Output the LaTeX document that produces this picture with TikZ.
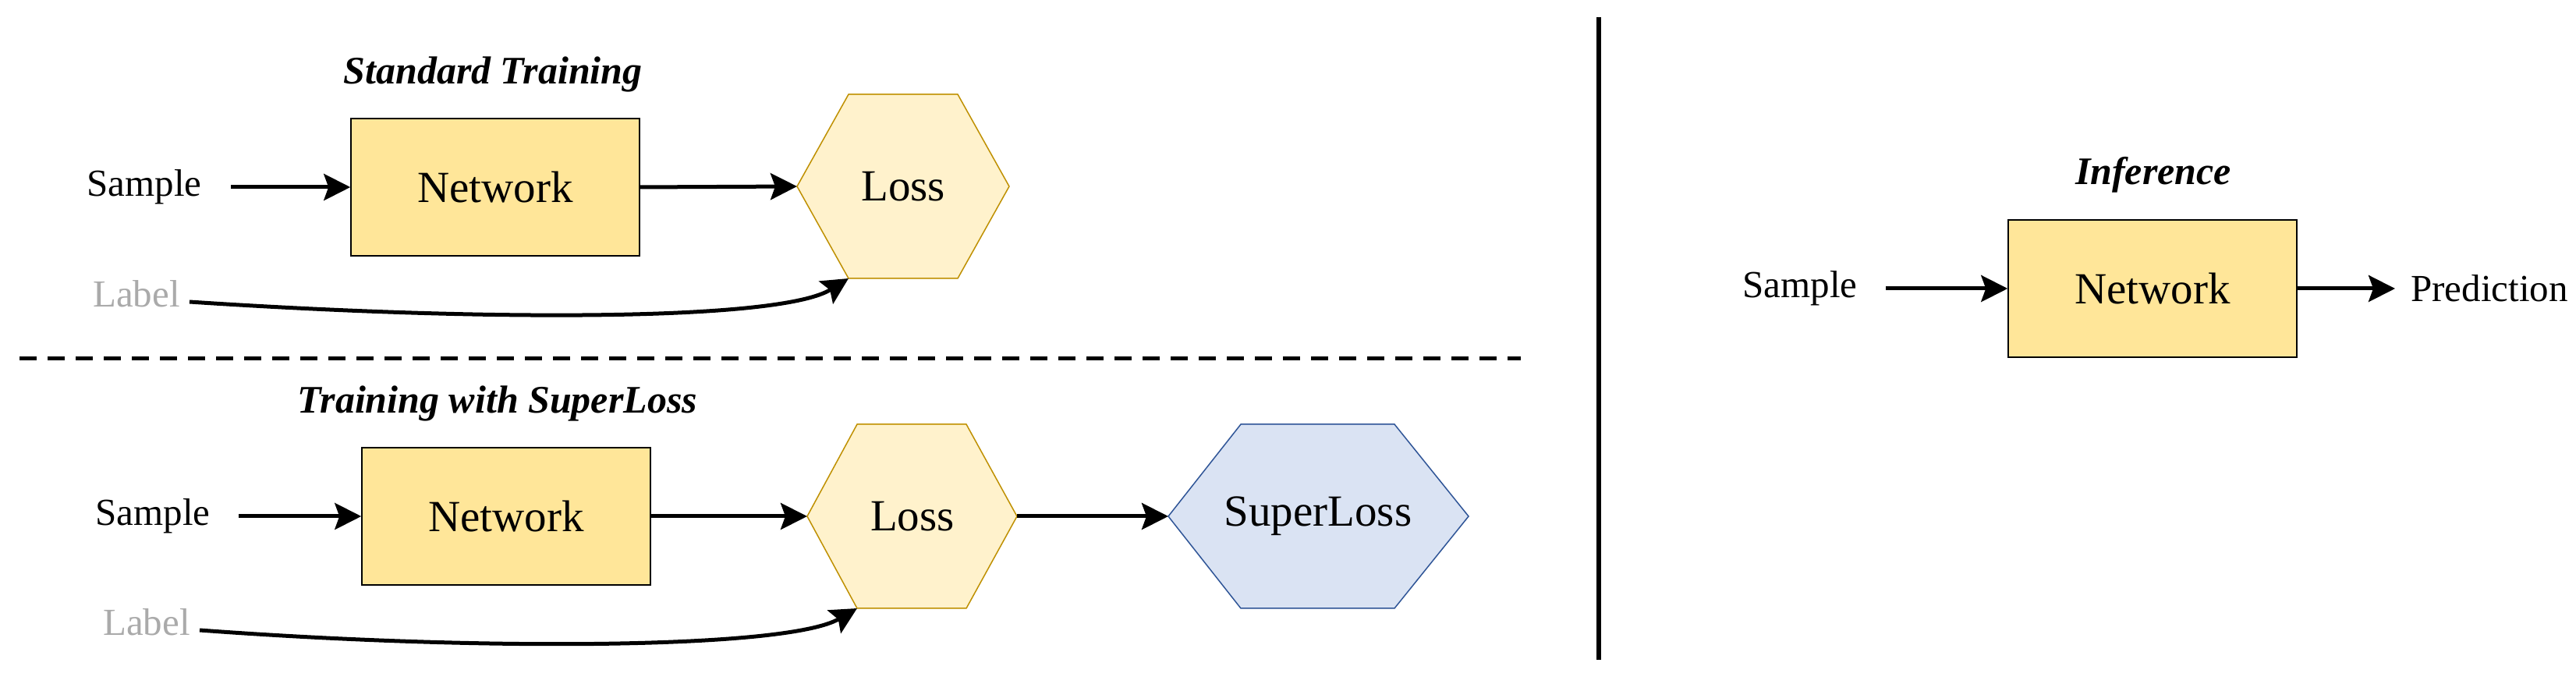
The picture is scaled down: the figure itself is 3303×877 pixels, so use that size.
\documentclass[tikz,border=0pt]{standalone}
\usepackage{fontspec}
\setmainfont{Liberation Serif}
\usetikzlibrary{arrows.meta}
\definecolor{netfill}{HTML}{FFE699}
\definecolor{lossfill}{HTML}{FFF2CC}
\definecolor{lossdraw}{HTML}{BF9000}
\definecolor{supfill}{HTML}{DAE3F3}
\definecolor{supdraw}{HTML}{2F5597}
\definecolor{lblgray}{HTML}{AAAAAA}
\begin{document}
\begin{tikzpicture}[x=1pt,y=1pt,
  net/.style={draw=black,line width=1.5pt,fill=netfill,minimum width=370pt,minimum height=176pt,inner sep=0pt,font=\fontsize{57}{60}\selectfont},
  big/.style={font=\fontsize{57}{60}\selectfont},
  txt/.style={font=\fontsize{49}{55}\selectfont,inner sep=0pt},
  ttl/.style={font=\fontsize{50}{55}\selectfont\bfseries\itshape,inner sep=0pt},
  lbl/.style={txt,text=lblgray},
  arr/.style={line width=5pt,-{Stealth[length=34pt,width=34pt,inset=6pt]}},
  hexl/.style={draw=lossdraw,line width=1.5pt,fill=lossfill},
  hexs/.style={draw=supdraw,line width=1.5pt,fill=supfill}]
\useasboundingbox (0,0) rectangle (3303,877);
% separators
\draw[line width=5pt,dash pattern=on 22pt off 14pt] (25,417) -- (1950,417);
\draw[line width=6pt] (2050,31) -- (2050,855);
% --- standard training
\node[ttl] (t1) at (632,782) {Standard Training};
\node[net] (n1) at (635,637) {Network};
\coordinate (l1w) at (1022,638); \coordinate (l1b) at (1088,520);
\draw[hexl] (1022,638) -- (1088,756) -- (1228,756) -- (1294,638) -- (1228,520) -- (1088,520) -- cycle;
\node[big] (loss1) at (1158,638) {Loss};
\node[txt] (s1) at (185,637) {Sample};
\node[lbl] (lb1) at (175,500) {Label};
\draw[arr] (296,637) -- (n1.west);
\draw[arr] (n1.east) -- (l1w);
\draw[line width=5pt,-{Stealth[length=34pt,width=34pt,inset=6pt]}] (lb1.east) ++(12,-10) .. controls (620,465) and (1000,465) .. (l1b);
% --- superloss
\node[ttl] (t2) at (638,360) {Training with SuperLoss};
\node[net] (n2) at (649,215) {Network};
\coordinate (l2w) at (1035,215); \coordinate (l2e) at (1304,215); \coordinate (l2b) at (1099,97);
\draw[hexl] (1035,215) -- (1099,333) -- (1239,333) -- (1304,215) -- (1239,97) -- (1099,97) -- cycle;
\node[big] (loss2) at (1170,215) {Loss};
\coordinate (sw) at (1498,215);
\draw[hexs] (1498,215) -- (1591,333) -- (1788,333) -- (1883,215) -- (1788,97) -- (1591,97) -- cycle;
\node[big] (sup) at (1690,215) {SuperLoss};
\node[txt] (s2) at (196,215) {Sample};
\node[lbl] (lb2) at (188,79) {Label};
\draw[arr] (306,215) -- (n2.west);
\draw[arr] (n2.east) -- (l2w);
\draw[arr] (l2e) -- (sw);
\draw[line width=5pt,-{Stealth[length=34pt,width=34pt,inset=6pt]}] (lb2.east) ++(12,-10) .. controls (620,42) and (1010,45) .. (l2b);
% --- inference
\node[ttl] (t3) at (2761,653) {Inference};
\node[net] (n3) at (2760,507) {Network};
\node[txt] (s3) at (2308,507) {Sample};
\node[txt,anchor=west] (p3) at (3091,507) {Prediction};
\draw[arr] (2418,507) -- (n3.west);
\draw[arr] (n3.east) -- ([xshift=-20pt]p3.west);
\end{tikzpicture}
\end{document}
